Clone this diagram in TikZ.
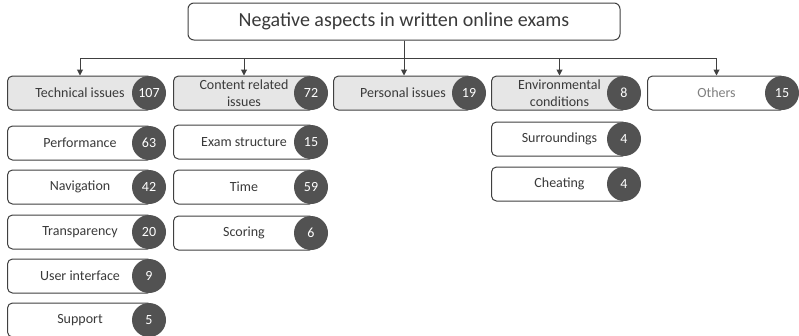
\documentclass[tikz,border=0pt]{standalone}
\usepackage{fontspec}
\setmainfont{Carlito}
\usepackage{tikz}
\usetikzlibrary{arrows.meta, positioning, calc}
\definecolor{BoxLine}{HTML}{404040}
\definecolor{BoxFill}{HTML}{E6E6E6}
\definecolor{CountGray}{HTML}{525252}
\definecolor{LabelGray}{HTML}{3A3A3A}
\definecolor{OtherGray}{HTML}{808080}

\begin{document}
\begin{tikzpicture}[x=1pt, y=-1pt,
    box/.style={draw=BoxLine, line width=1pt, rounded corners=5pt, fill=white, minimum height=34pt, minimum width=#1, inner sep=2pt, align=center, text=LabelGray, font=\fontsize{14}{17}\selectfont},
    box/.default=140pt,
    head/.style={box=#1, fill=BoxFill},
    count/.style={circle, fill=CountGray, minimum size=34pt, inner sep=0pt, text=white, font=\fontsize{14}{17}\selectfont},
    conn/.style={draw=BoxLine, line width=1pt, -{Triangle[width=6pt, length=6pt]}}]
                    \useasboundingbox (0,0) rectangle (799,335);

                    % root
                    \node[box, minimum width=432pt, minimum height=37pt, rounded corners=6pt, font=\fontsize{20}{24}\selectfont] (title) at (404,21.5) {Negative aspects in written online exams};

                    % main categories
                    \node[head=145pt, anchor=west] (T) at (7,93) {Technical issues};
                    \node[count] (Tn) at ([xshift=-4pt]T.east) {107};
                    \node[head=141pt, anchor=west] (C) at (173,93) {Content related\\issues};
                    \node[count] (Cn) at ([xshift=-4pt]C.east) {72};
                    \node[head=139pt, anchor=west] (P) at (333,93) {Personal issues};
                    \node[count] (Pn) at ([xshift=-4pt]P.east) {19};
                    \node[head=136pt, anchor=west] (E) at (491,93) {Environmental\\conditions};
                    \node[count] (En) at ([xshift=-4pt]E.east) {8};
                    \node[box=138pt, anchor=west, text=OtherGray] (O) at (647,93) {Others};
                    \node[count] (On) at ([xshift=-4pt]O.east) {15};

                    \draw[conn] (title.south) -- ++(0,18) -| (T.north);
                    \draw[conn] (title.south) -- ++(0,18) -| (C.north);
                    \draw[conn] (title.south) -- (title.south |- P.north);
                    \draw[conn] (title.south) -- ++(0,18) -| (E.north);
                    \draw[conn] (title.south) -- ++(0,18) -| (O.north);

                    % technical issues
                    \node[box=145pt, anchor=west] (T1) at (7,143) {Performance};
                    \node[count] (T1n) at ([xshift=-4pt]T1.east) {63};
                    \node[box=145pt, anchor=west] (T2) at (7,187) {Navigation};
                    \node[count] (T2n) at ([xshift=-4pt]T2.east) {42};
                    \node[box=145pt, anchor=west] (T3) at (7,232) {Transparency};
                    \node[count] (T3n) at ([xshift=-4pt]T3.east) {20};
                    \node[box=145pt, anchor=west] (T4) at (7,276) {User interface};
                    \node[count] (T4n) at ([xshift=-4pt]T4.east) {9};
                    \node[box=145pt, anchor=west] (T5) at (7,320) {Support};
                    \node[count] (T5n) at ([xshift=-4pt]T5.east) {5};

                    % content related issues
                    \node[box=141pt, anchor=west] (C1) at (173,142) {Exam structure};
                    \node[count] (C1n) at ([xshift=-4pt]C1.east) {15};
                    \node[box=141pt, anchor=west] (C2) at (173,187) {Time};
                    \node[count] (C2n) at ([xshift=-4pt]C2.east) {59};
                    \node[box=141pt, anchor=west] (C3) at (173,233) {Scoring};
                    \node[count] (C3n) at ([xshift=-4pt]C3.east) {6};

                    % environmental conditions
                    \node[box=136pt, anchor=west] (E1) at (491,139) {Surroundings};
                    \node[count] (E1n) at ([xshift=-4pt]E1.east) {4};
                    \node[box=136pt, anchor=west] (E2) at (491,184) {Cheating};
                    \node[count] (E2n) at ([xshift=-4pt]E2.east) {4};
                \end{tikzpicture}
\end{document}
